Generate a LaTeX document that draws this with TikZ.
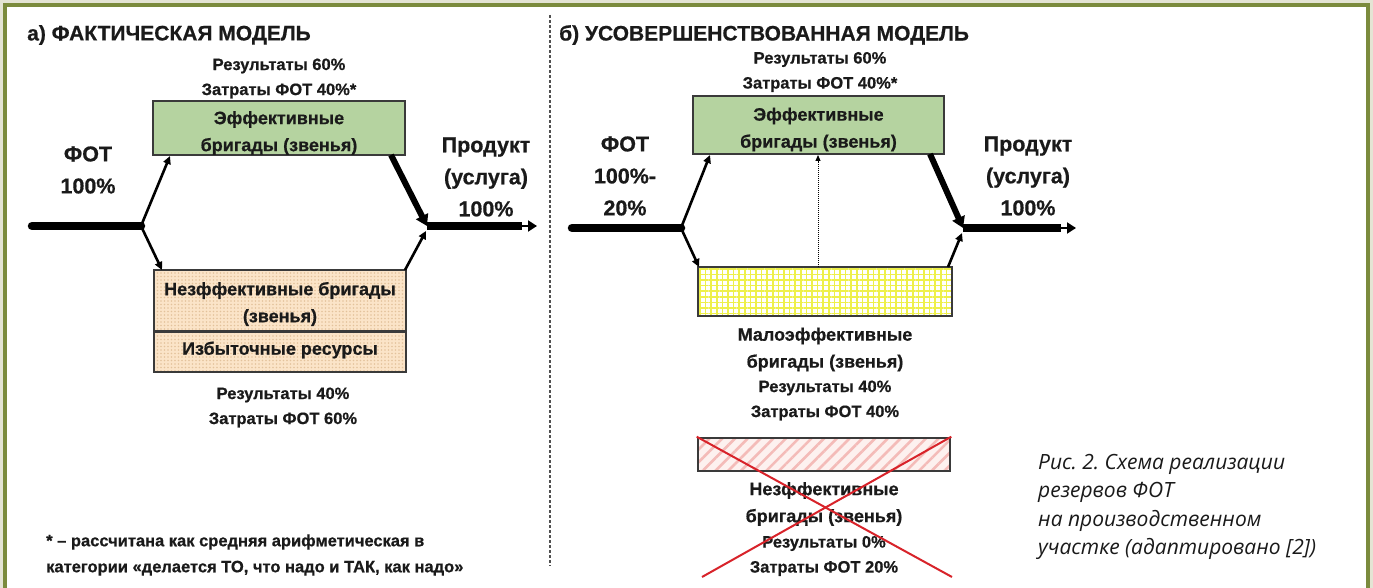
\documentclass[tikz,border=0pt]{standalone}
\usepackage{fontspec}
\setmainfont{Liberation Sans}[BoldFeatures={FakeBold=0.6}]
\newfontfamily\capfont{Open Sans}
\usetikzlibrary{arrows.meta,patterns.meta}
\frenchspacing
\definecolor{bgbeige}{HTML}{E4E4D4}
\definecolor{frameolive}{HTML}{7B8B3D}
\definecolor{effgreen}{HTML}{B5D3A0}
\definecolor{boxline}{HTML}{3A3A3A}
\definecolor{peachfill}{HTML}{FBE4C8}
\definecolor{peachdot}{HTML}{E3C29C}
\definecolor{gridyellow}{HTML}{EEF04A}
\definecolor{pinkfill}{HTML}{FDF1EF}
\definecolor{pinkstripe}{HTML}{F4BBB8}
\definecolor{crossred}{HTML}{D8232A}
\definecolor{divgray}{HTML}{505050}
\definecolor{txt}{HTML}{1A1A1A}
\begin{document}
\begin{tikzpicture}[x=1pt,y=-1pt,
 ttl/.style={font=\bfseries\fontsize{21}{24}\selectfont, anchor=west, inner sep=0pt, text=txt},
 sml/.style={font=\bfseries\fontsize{16.5}{25}\selectfont, align=center, inner sep=0pt, text=txt},
 bxt/.style={font=\bfseries\fontsize{18}{27}\selectfont, align=center, inner sep=0pt, text=txt},
 lblbig/.style={font=\bfseries\fontsize{21.5}{32}\selectfont, align=center, inner sep=0pt, text=txt},
 notetxt/.style={font=\bfseries\fontsize{16.5}{26}\selectfont, align=left, anchor=west, inner sep=0pt, text=txt},
 captxt/.style={font=\capfont\itshape\fontsize{21}{28.3}\selectfont, align=left, anchor=west, inner sep=0pt, text=txt},
 boxbase/.style={rectangle, draw=boxline, line width=1.8pt, inner sep=0pt},
 effbox/.style={boxbase, fill=effgreen},
 peachbox/.style={boxbase, preaction={fill=peachfill}, pattern={Dots[radius=0.9pt,distance=3.5pt]}, pattern color=peachdot},
 gridbox/.style={boxbase, preaction={fill=white}, pattern={Hatch[angle=0,distance=5.6pt,line width=1.7pt]}, pattern color=gridyellow},
 stripebox/.style={boxbase, preaction={fill=pinkfill}, pattern={Lines[angle=45,distance=9pt,line width=2.6pt]}, pattern color=pinkstripe},
 mainln/.style={line width=8.5pt, line cap=round},
 barln/.style={line width=8.5pt},
 br/.style={line width=2.6pt, -{Triangle[length=8pt,width=7.5pt]}},
 thickbr/.style={line width=6pt, -{Triangle[length=11pt,width=13pt]}},
 outarr/.style={line width=2pt, -{Triangle[length=9pt,width=11pt]}},
 dotarr/.style={line width=1pt, densely dotted, -{Triangle[length=6pt,width=5pt]}},
 crossln/.style={line width=2pt, draw=crossred},
]
\useasboundingbox (0,0) rectangle (1373,588);
\clip (0,0) rectangle (1373,588);
\fill[bgbeige] (0,0) rectangle (1373,588);
\filldraw[fill=white, draw=frameolive, line width=3.5pt] (5,5) rectangle (1368,620);

% divider
\coordinate (dtop) at (550,15);
\coordinate (dbot) at (550,566);
\draw[divgray, line width=1.6pt, dash pattern=on 3pt off 2pt] (dtop) -- (dbot);

% ================= left panel =================
\node[ttl] (a_title) at (27,35) {а) ФАКТИЧЕСКАЯ МОДЕЛЬ};
\node[sml] (a_top) at (279,78.5) {Результаты 60\%\\Затраты ФОТ 40\%*};
\node[effbox, minimum width=252pt, minimum height=54pt] (a_eff) at (279,128) {};
\node[bxt] (a_efft) at (279,133) {Эффективные\\бригады (звенья)};
\node[lblbig] (a_fot) at (88,170) {ФОТ\\100\%};
\node[lblbig] (a_prod) at (486,177) {Продукт\\(услуга)\\100\%};
\node[peachbox, minimum width=252pt, minimum height=61pt] (a_ineff) at (280,300.5) {};
\node[peachbox, minimum width=252pt, minimum height=41pt] (a_exc) at (280,351.5) {};
\draw[boxline, line width=3pt] (a_ineff.south west) -- (a_ineff.south east);
\node[bxt] (a_ineft) at (280,304) {Незффективные бригады\\(звенья)};
\node[bxt] (a_exct) at (280,350) {Избыточные ресурсы};
\node[sml] (a_bot) at (283,407.5) {Результаты 40\%\\Затраты ФОТ 60\%};
\node[notetxt] (a_note) at (46,555) {* – рассчитана как средняя арифметическая в\\категории «делается ТО, что надо и ТАК, как надо»};

\coordinate (a_in) at (32,226);
\coordinate (a_j1) at (141,226);
\coordinate (a_j2) at (427,226);
\coordinate (a_bar) at (522,226);
\coordinate (a_out) at (537,226);
\coordinate (a_e1) at (170,156);
\coordinate (a_n1) at (162,270);
\coordinate (a_e2) at (391,155);
\coordinate (a_n2) at (405,270);
\coordinate (a_j2b) at (426,231);
\draw[mainln] (a_in) -- (a_j1);
\draw[br] (a_j1) -- (a_e1);
\draw[br] (a_j1) -- (a_n1);
\draw[thickbr] (a_e2) -- (a_j2);
\draw[br] (a_n2) -- (a_j2b);
\draw[barln] (a_j2) -- (a_bar);
\draw[outarr] (a_j2) -- (a_out);

% ================= right panel =================
\node[ttl] (b_title) at (559,35) {б) УСОВЕРШЕНСТВОВАННАЯ МОДЕЛЬ};
\node[sml] (b_top) at (820,72) {Результаты 60\%\\Затраты ФОТ 40\%*};
\node[effbox, minimum width=251pt, minimum height=58pt] (b_eff) at (818.5,125) {};
\node[bxt] (b_efft) at (818.5,129.5) {Эффективные\\бригады (звенья)};
\node[lblbig] (b_fot) at (625,176) {ФОТ\\100\%-\\20\%};
\node[lblbig] (b_prod) at (1028,176) {Продукт\\(услуга)\\100\%};
\node[gridbox, minimum width=254pt, minimum height=49pt] (b_low) at (825,291.5) {};
\node[bxt] (b_lt1) at (825,349.5) {Малоэффективные\\бригады (звенья)};
\node[sml] (b_lt2) at (825,400.5) {Результаты 40\%\\Затраты ФОТ 40\%};
\node[stripebox, minimum width=252pt, minimum height=33pt] (b_bad) at (824,454.5) {};
\node[bxt] (b_bt1) at (824,504) {Незффективные\\бригады (звенья)};
\node[sml] (b_bt2) at (824,556) {Результаты 0\%\\Затраты ФОТ 20\%};

\coordinate (b_in) at (572,228);
\coordinate (b_j1) at (681,228);
\coordinate (b_j2) at (963,228);
\coordinate (b_bar) at (1061,228);
\coordinate (b_out) at (1076,228);
\coordinate (b_e1) at (710,155);
\coordinate (b_y1) at (699,267);
\coordinate (b_e2) at (930,154);
\coordinate (b_y2) at (948,267);
\coordinate (b_j2b) at (962,233);
\coordinate (b_dlow) at (818,267);
\coordinate (b_dup) at (818,155);
\draw[mainln] (b_in) -- (b_j1);
\draw[br] (b_j1) -- (b_e1);
\draw[br] (b_j1) -- (b_y1);
\draw[thickbr] (b_e2) -- (b_j2);
\draw[br] (b_y2) -- (b_j2b);
\draw[barln] (b_j2) -- (b_bar);
\draw[outarr] (b_j2) -- (b_out);
\draw[dotarr] (b_dlow) -- (b_dup);

% red cross
\coordinate (b_x1) at (952,577);
\coordinate (b_x2) at (702,577);
\draw[crossln] (b_bad.north west) -- (b_x1);
\draw[crossln] (b_bad.north east) -- (b_x2);

% caption
\node[captxt] (cap) at (1038,507) {Рис. 2. Схема реализации\\резервов ФОТ\\на производственном\\участке (адаптировано [2])};
\end{tikzpicture}
\end{document}
